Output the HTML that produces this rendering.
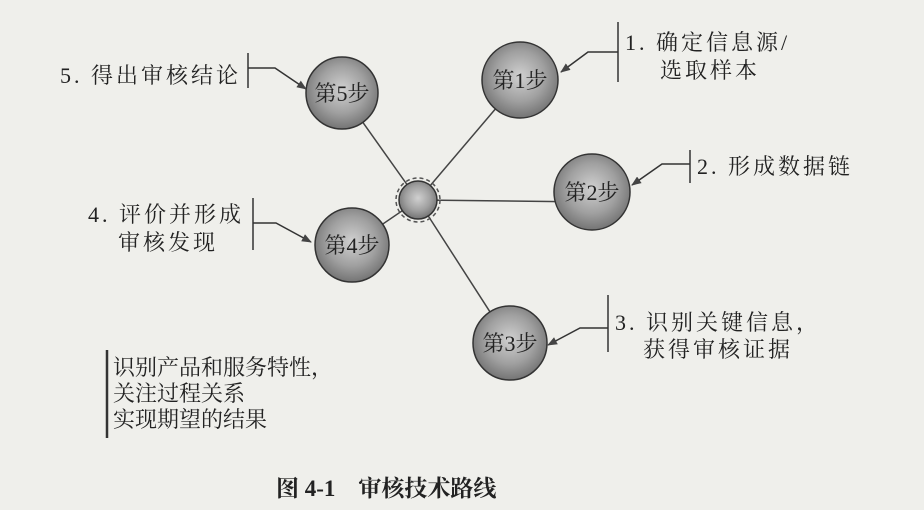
<!DOCTYPE html>
<html><head><meta charset="utf-8"><style>
html,body{margin:0;padding:0;background:#efefeb;}
svg{display:block;}
text{font-family:"Liberation Serif","Noto Serif CJK SC",serif;fill:#222;}
</style></head><body>
<svg width="924" height="510" viewBox="0 0 924 510" xmlns="http://www.w3.org/2000/svg">
<defs>
<radialGradient id="g" cx="50%" cy="45%" r="55%">
<stop offset="0" stop-color="#d0d0d0"/><stop offset="0.6" stop-color="#a0a0a0"/><stop offset="1" stop-color="#747474"/>
</radialGradient>
<marker id="ar" markerWidth="10" markerHeight="8" refX="9" refY="4" orient="auto" markerUnits="userSpaceOnUse">
<path d="M0,0 L10,4 L0,8 Z" fill="#444"/>
</marker>
</defs>
<rect width="924" height="510" fill="#efefeb"/>
<g stroke="#444" stroke-width="1.5" fill="none">
<line x1="418" y1="200" x2="342" y2="93"/>
<line x1="418" y1="200" x2="520" y2="80"/>
<line x1="418" y1="200" x2="592" y2="202"/>
<line x1="418" y1="200" x2="352" y2="245"/>
<line x1="418" y1="200" x2="510" y2="343"/>
</g>
<g stroke="#333" stroke-width="1.5" fill="url(#g)">
<circle cx="342" cy="93" r="36"/>
<circle cx="520" cy="80" r="38"/>
<circle cx="592" cy="192" r="38"/>
<circle cx="352" cy="245" r="37"/>
<circle cx="510" cy="343" r="37"/>
<circle cx="418" cy="200" r="19"/>
</g>
<circle cx="418" cy="200" r="22" fill="none" stroke="#555" stroke-width="1.5" stroke-dasharray="4,3"/>
<g font-size="22" text-anchor="middle">
<text x="342" y="101">第5步</text>
<text x="520" y="88">第1步</text>
<text x="592" y="200">第2步</text>
<text x="352" y="253">第4步</text>
<text x="510" y="351">第3步</text>
</g>
<g stroke="#333" stroke-width="1.5" fill="none">
<line x1="248" y1="53" x2="248" y2="88"/>
<polyline points="248,68 275,68 306,89" marker-end="url(#ar)"/>
<line x1="253" y1="198" x2="253" y2="250"/>
<polyline points="253,223 276,223 311,242" marker-end="url(#ar)"/>
<line x1="618" y1="22" x2="618" y2="82"/>
<polyline points="618,52 588,52 561,72" marker-end="url(#ar)"/>
<line x1="690" y1="150" x2="690" y2="183"/>
<polyline points="690,164 662,164 632,185" marker-end="url(#ar)"/>
<line x1="608" y1="295" x2="608" y2="352"/>
<polyline points="608,328 580,328 548,345" marker-end="url(#ar)"/>
<line x1="107" y1="350" x2="107" y2="438" stroke-width="2.5"/>
</g>
<g font-size="22" letter-spacing="3">
<text x="60" y="83">5. 得出审核结论</text>
<text x="88" y="222">4. 评价并形成</text>
<text x="118" y="250">审核发现</text>
<text x="625" y="50">1. 确定信息源/</text>
<text x="660" y="78">选取样本</text>
<text x="697" y="174">2. 形成数据链</text>
<text x="615" y="330">3. 识别关键信息，</text>
<text x="643" y="357">获得审核证据</text>
</g>
<g font-size="22">
<text x="113" y="375">识别产品和服务特性，</text>
<text x="113" y="401">关注过程关系</text>
<text x="113" y="427">实现期望的结果</text>
</g>
<text x="276" y="496" font-size="23" font-weight="bold" font-family="'Liberation Sans','Noto Sans CJK SC',sans-serif">图 4-1　审核技术路线</text>
</svg>
</body></html>
